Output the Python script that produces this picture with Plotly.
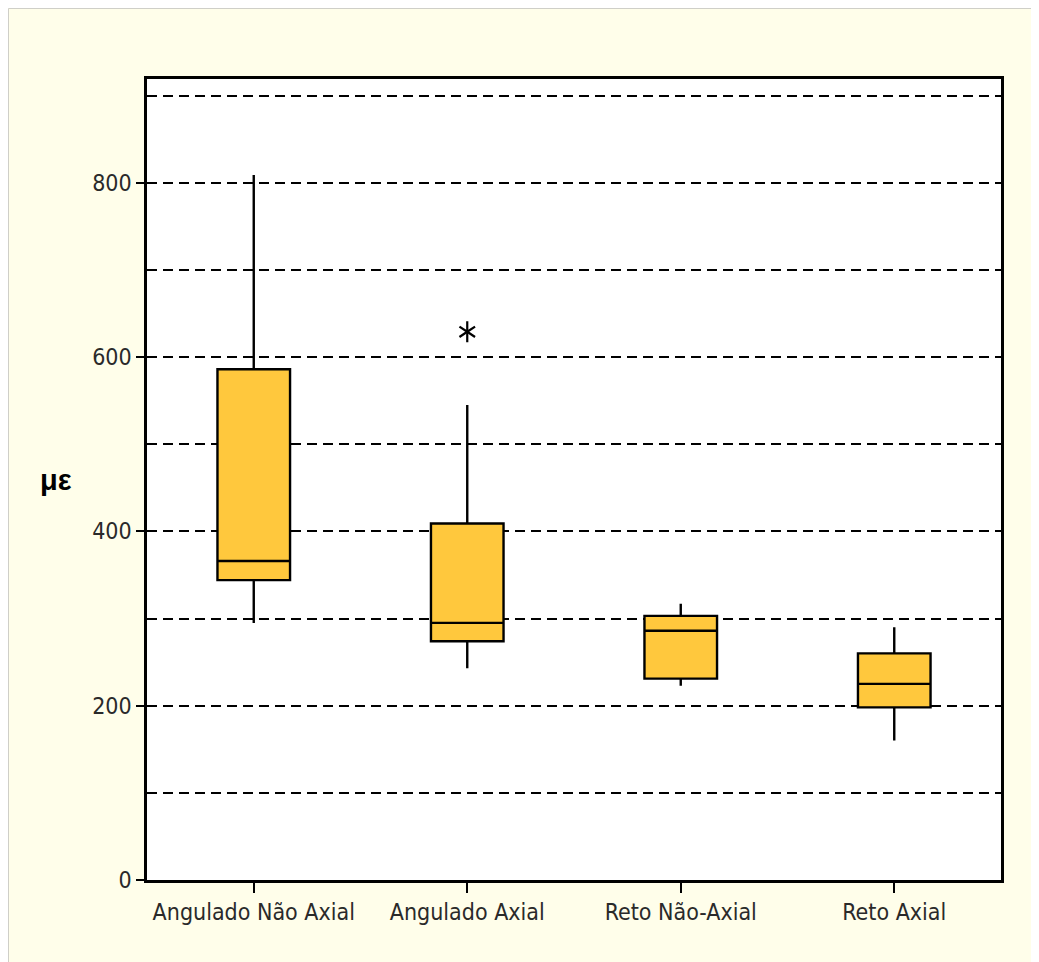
import plotly.graph_objects as go

categories = ["Angulado Não Axial", "Angulado Axial", "Reto Não-Axial", "Reto Axial"]
lower_whisker = [295, 243, 223, 160]
q1_values = [344, 274, 231, 198]
median_values = [366, 295, 286, 225]
q3_values = [586, 409, 303, 260]
upper_whisker = [809, 545, 317, 290]
outlier_category = ["Angulado Axial", "Angulado Axial"]
outlier_values = [629, 629]
outlier_symbols = ["y-up-open", "y-down-open"]

y_tick_vals = [0, 200, 400, 600, 800]
y_tick_text = ["0", "200", "400", "600", "800"]

fig = go.Figure()

fig.add_trace(go.Box(
    x=categories,
    q1=q1_values,
    median=median_values,
    q3=q3_values,
    lowerfence=lower_whisker,
    upperfence=upper_whisker,
    fillcolor="#FFC83D",
    line=dict(color="#000000", width=2.4),
    whiskerwidth=0,
    width=0.34,
    boxpoints=False,
    showlegend=False,
    hoverinfo="skip",
))

fig.add_trace(go.Scatter(
    x=outlier_category,
    y=outlier_values,
    mode="markers",
    marker=dict(symbol=outlier_symbols, size=13, color="#000000",
                line=dict(color="#000000", width=2.2)),
    showlegend=False,
    hoverinfo="skip",
))

W, H = 1039, 962
L, R, T, B = 139, 46, 71, 90
pw, ph = W - L - R, H - T - B

# thin grey edge on top and left of the page area
edge = dict(color="#CFCFC8", width=1)
fig.add_shape(type="line", xref="paper", yref="paper", layer="below",
              x0=(0.5 - L) / pw, x1=(W + 20 - L) / pw,
              y0=(T + ph - 0.5) / ph, y1=(T + ph - 0.5) / ph, line=edge)
fig.add_shape(type="line", xref="paper", yref="paper", layer="below",
              x0=(0.5 - L) / pw, x1=(0.5 - L) / pw,
              y0=(T + ph - 0.5) / ph, y1=(T + ph - (H + 20)) / ph, line=edge)

fig.add_annotation(
    text="<b>με</b>", xref="paper", yref="paper",
    x=(48 - L) / pw, y=(T + ph - 472) / ph,
    showarrow=False, font=dict(family="Liberation Sans, Arial, sans-serif", size=29, color="#000000"),
    xanchor="center", yanchor="middle",
)

tick_font = dict(family="DejaVu Sans Condensed, Liberation Sans Narrow, Arial Narrow, sans-serif",
                 size=23, color="#2a2a2a")

fig.update_layout(
    width=W, height=H,
    margin=dict(l=L, r=R, t=T, b=B, pad=0),
    paper_bgcolor="#FFFEEA",
    plot_bgcolor="#FFFFFF",
    showlegend=False,
)

fig.update_xaxes(
    type="category",
    range=[-0.5, 3.5],
    showline=True, linecolor="#000000", linewidth=2.5, mirror=True,
    ticks="outside", ticklen=10, tickwidth=1.5, tickcolor="#000000",
    showgrid=False, zeroline=False,
    tickfont=tick_font,
)

fig.update_yaxes(
    range=[0, 919],
    tickvals=y_tick_vals, ticktext=y_tick_text,
    showline=True, linecolor="#000000", linewidth=2.5, mirror=True,
    ticks="outside", ticklen=8, tickwidth=1.5, tickcolor="#000000",
    showgrid=True, gridcolor="#000000", gridwidth=2.4, griddash="10px,6px",
    zeroline=False,
    minor=dict(dtick=100, tick0=0, showgrid=True, gridcolor="#000000", gridwidth=2.4,
               griddash="10px,6px", ticks=""),
    tickfont=tick_font,
)

fig.write_html("out.html")
